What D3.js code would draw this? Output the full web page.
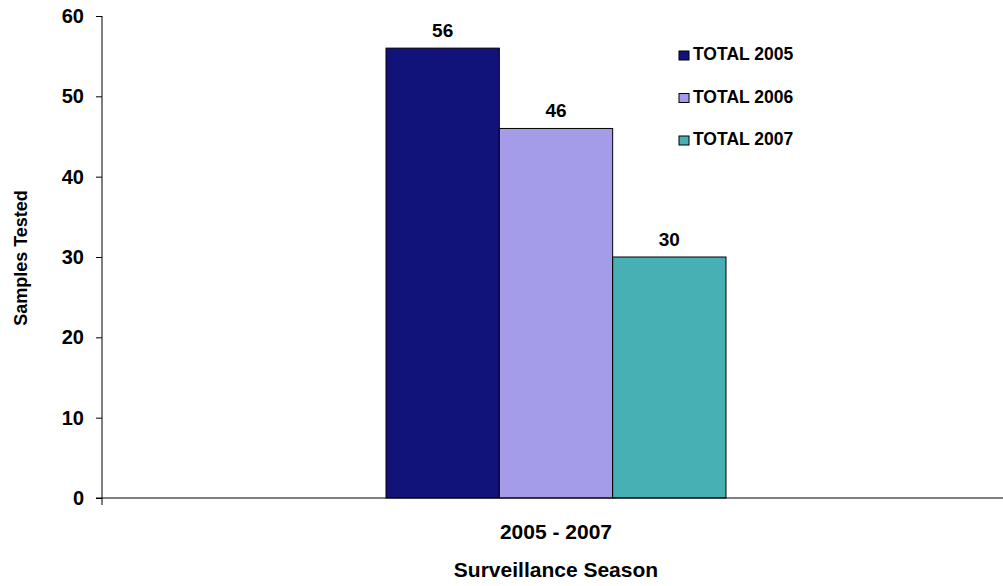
<!DOCTYPE html>
<html lang="en">
<head>
<meta charset="utf-8">
<title>Samples Tested</title>
<script src="https://cdn.jsdelivr.net/npm/d3@7"></script>
<style>
  body { margin: 0; background: #fff; }
  text { font-family: "Liberation Sans", Arial, sans-serif; font-weight: bold; }
</style>
</head>
<body>
<script>
var categories = ["2005 - 2007"];
var seriesNames = ["TOTAL 2005", "TOTAL 2006", "TOTAL 2007"];
var seriesValues = [56, 46, 30];
var seriesColors = ["#11137a", "#a59ce9", "#47b0b4"];
var yTicks = [0, 10, 20, 30, 40, 50, 60];

var w = 1003, h = 586;
var plotLeft = 102, plotTop = 16, plotRight = 1010, plotBottom = 498;

var svg = d3.select("body").append("svg")
  .attr("width", w).attr("height", h);

var xScale = d3.scaleBand().domain(categories).range([plotLeft, plotRight]);
var groupMid = xScale(categories[0]) + xScale.bandwidth() / 2;
var inner = d3.scaleBand().domain(seriesNames)
  .range([groupMid - 170, groupMid + 170]);
var yScale = d3.scaleLinear().domain([0, 60]).range([plotBottom, plotTop]);

// bars
svg.selectAll("rect.bar")
  .data(seriesValues)
  .enter().append("rect")
  .attr("class", "bar")
  .attr("x", function(d, i) { return inner(seriesNames[i]); })
  .attr("y", function(d) { return yScale(d); })
  .attr("width", inner.bandwidth())
  .attr("height", function(d) { return plotBottom - yScale(d); })
  .attr("fill", function(d, i) { return seriesColors[i]; })
  .attr("stroke", "#000").attr("stroke-width", 1);

// value labels
svg.selectAll("text.val")
  .data(seriesValues)
  .enter().append("text")
  .attr("class", "val")
  .attr("x", function(d, i) { return inner(seriesNames[i]) + inner.bandwidth() / 2; })
  .attr("y", function(d) { return yScale(d) - 11; })
  .attr("text-anchor", "middle")
  .attr("font-size", "19px")
  .text(function(d) { return d; });

// y axis
var yAxis = d3.axisLeft(yScale).tickValues(yTicks).tickSize(6).tickPadding(12);
var gy = svg.append("g").attr("transform", "translate(" + plotLeft + ",0)").call(yAxis);
gy.select(".domain").attr("d", "M0," + plotTop + "V" + (plotBottom + 7)).attr("stroke", "#000");
gy.selectAll("text").attr("font-size", "20px").attr("font-family", "Liberation Sans, Arial, sans-serif").attr("font-weight", "bold").attr("fill", "#000");
gy.selectAll("line").attr("stroke", "#000");

// x axis
svg.append("line")
  .attr("x1", plotLeft - 6).attr("x2", w)
  .attr("y1", plotBottom).attr("y2", plotBottom)
  .attr("stroke", "#000");

svg.selectAll("text.cat")
  .data(categories)
  .enter().append("text")
  .attr("class", "cat")
  .attr("x", function(d) { return xScale(d) + xScale.bandwidth() / 2; })
  .attr("y", 539)
  .attr("text-anchor", "middle")
  .attr("font-size", "21px")
  .text(function(d) { return d; });

// axis titles
svg.append("text")
  .attr("x", groupMid).attr("y", 577)
  .attr("text-anchor", "middle")
  .attr("font-size", "21px")
  .text("Surveillance Season");

svg.append("text")
  .attr("transform", "translate(27,258) rotate(-90)")
  .attr("text-anchor", "middle")
  .attr("font-size", "18px")
  .text("Samples Tested");

// legend
var legend = svg.selectAll("g.leg")
  .data(seriesNames)
  .enter().append("g")
  .attr("class", "leg")
  .attr("transform", function(d, i) { return "translate(679," + (51 + i * 42.5) + ")"; });
legend.append("rect")
  .attr("width", 10).attr("height", 9)
  .attr("fill", function(d, i) { return seriesColors[i]; })
  .attr("stroke", "#000");
legend.append("text")
  .attr("x", 14).attr("y", 9)
  .attr("font-size", "17.5px")
  .text(function(d) { return d; });
</script>
</body>
</html>
